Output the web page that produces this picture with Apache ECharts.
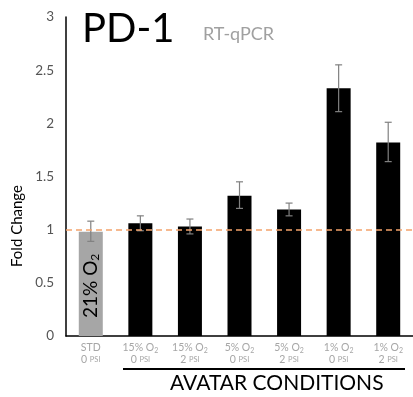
<!DOCTYPE html>
<html><head><meta charset="utf-8">
<script src="https://cdn.jsdelivr.net/npm/echarts@6/dist/echarts.min.js"></script>
<style>html,body{margin:0;padding:0;background:#fff}#c{width:413px;height:397px}</style>
</head><body><div id="c"></div>
<script>
const oxygen = ['21', '15', '15', '5', '5', '1', '1'];
const pressure = ['0', '0', '2', '0', '2', '0', '2'];
const categories = ['STD', '15% O2 0 PSI', '15% O2 2 PSI', '5% O2 0 PSI', '5% O2 2 PSI', '1% O2 0 PSI', '1% O2 2 PSI'];
const values = [0.98, 1.06, 1.03, 1.32, 1.19, 2.33, 1.82];
const errLow = [0.89, 0.99, 0.96, 1.20, 1.13, 2.11, 1.64];
const errHigh = [1.08, 1.13, 1.10, 1.45, 1.25, 2.55, 2.01];
const yTicks = [0, 0.5, 1, 1.5, 2, 2.5, 3];
const refLine = 1;

const F = 'Lato, "Noto Sans", sans-serif';
const chart = echarts.init(document.getElementById('c'));
chart.setOption({
  animation: false,
  grid: {left: 66, right: 0, top: 17, bottom: 61},
  title: [
    {text: 'PD-1', left: 77, top: 4, textStyle: {fontFamily: F, fontWeight: 'normal', fontSize: 40, color: '#000'}},
    {text: 'RT-qPCR', left: 198, top: 20, textStyle: {fontFamily: F, fontWeight: 'normal', fontSize: 18, color: '#a0a0a0'}}
  ],
  xAxis: {
    type: 'category', data: categories,
    axisLine: {lineStyle: {color: '#000', width: 1.5}},
    axisTick: {show: false},
    axisLabel: {
      interval: 0, margin: 6, color: '#a6a6a6', fontFamily: F, lineHeight: 12,
      formatter: function (v, i) {
        const top = i === 0 ? '{a|STD}' : '{a|' + oxygen[i] + '% O}{s|2}';
        return top + '\n{a|' + pressure[i] + ' }{p|PSI}';
      },
      rich: {
        a: {fontSize: 10.5, color: '#a6a6a6', fontFamily: F, lineHeight: 12},
        s: {fontSize: 7, color: '#a6a6a6', fontFamily: F, verticalAlign: 'bottom', padding: [5, 0, 0, 0], lineHeight: 12},
        p: {fontSize: 7.5, color: '#a6a6a6', fontFamily: F, lineHeight: 12}
      }
    }
  },
  yAxis: {
    type: 'value', min: 0, max: 3, interval: 0.5,
    axisLine: {show: true, lineStyle: {color: '#000', width: 1.5}},
    axisTick: {show: false},
    splitLine: {show: false},
    axisLabel: {margin: 12, fontFamily: F, fontSize: 13.5, color: '#555',
      formatter: v => yTicks.indexOf(v) >= 0 ? String(v) : ''}
  },
  series: [
    {
      type: 'bar', barWidth: 24,
      data: values.map((v, i) => ({value: v, itemStyle: {color: i === 0 ? '#a6a6a6' : '#000'}})),
      label: {
        show: true, position: 'insideBottom', distance: 18, rotate: 90, align: 'left', verticalAlign: 'middle',
        formatter: p => p.dataIndex === 0 ? '{a|21% O}{s|2}' : '',
        rich: {a: {fontSize: 19, color: '#000', fontFamily: F}, s: {fontSize: 12, color: '#000', fontFamily: F, padding: [8, 0, 0, 0]}}
      },
      markLine: {
        silent: true, symbol: 'none', label: {show: false},
        lineStyle: {color: '#f4a36b', type: [6, 4], width: 1.5},
        data: [{yAxis: refLine}]
      },
      z: 2
    },
    {
      type: 'custom', z: 3,
      data: values.map((v, i) => [i, errLow[i], errHigh[i]]),
      renderItem: function (params, api) {
        const lo = api.coord([api.value(0), api.value(1)]);
        const hi = api.coord([api.value(0), api.value(2)]);
        const w = 3.5;
        const st = {stroke: '#808080', lineWidth: 1.2};
        return {type: 'group', children: [
          {type: 'line', shape: {x1: hi[0], y1: hi[1], x2: lo[0], y2: lo[1]}, style: st},
          {type: 'line', shape: {x1: hi[0] - w, y1: hi[1], x2: hi[0] + w, y2: hi[1]}, style: st},
          {type: 'line', shape: {x1: lo[0] - w, y1: lo[1], x2: lo[0] + w, y2: lo[1]}, style: st}
        ]};
      }
    }
  ],
  graphic: [
    {type: 'text', x: 17, y: 226, rotation: Math.PI / 2,
      style: {text: 'Fold Change', font: '15px ' + F, fill: '#000', align: 'center', verticalAlign: 'middle'}},
    {type: 'line', shape: {x1: 123, y1: 369, x2: 405, y2: 369}, style: {stroke: '#000', lineWidth: 2}},
    {type: 'text', left: 170, top: 373, style: {text: 'AVATAR CONDITIONS', font: '21px ' + F, fill: '#000'}}
  ]
});
</script></body></html>
